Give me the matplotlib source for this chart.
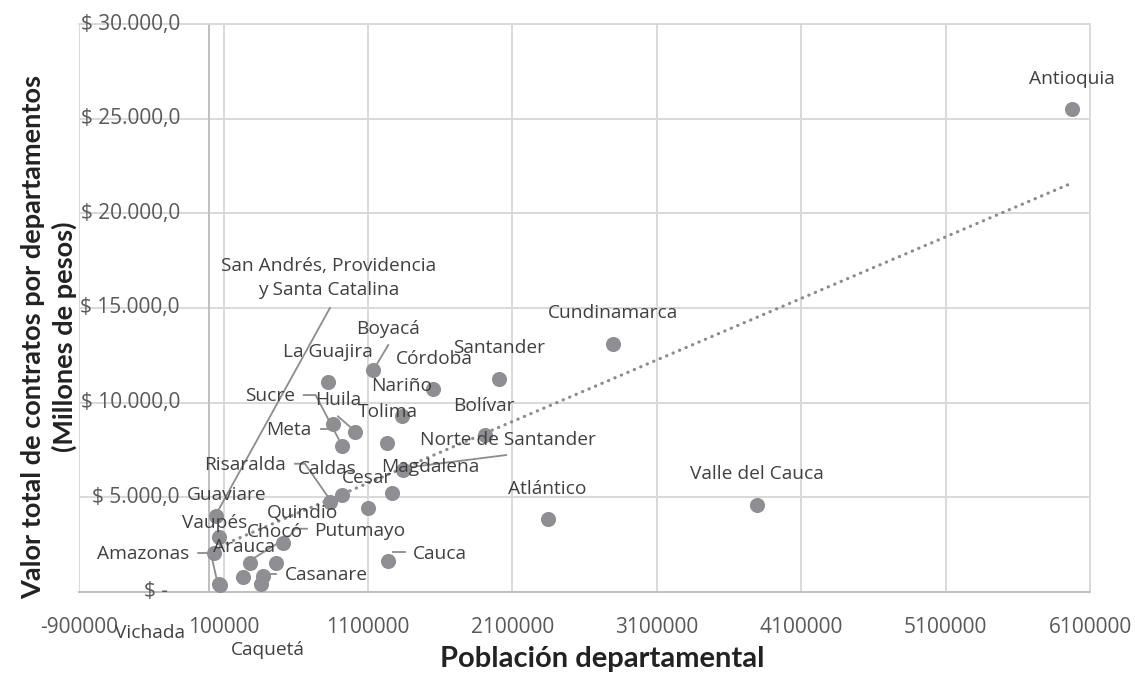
import matplotlib as mpl
import matplotlib.pyplot as plt
import matplotlib.ticker as ticker
import numpy as np

mpl.rcParams['font.family'] = ['Open Sans', 'DejaVu Sans']

# datos por departamento: poblacion y valor total de contratos (millones de pesos)
departamentos = ['Antioquia', 'Cundinamarca', 'Santander', 'Bolívar', 'Valle del Cauca',
                 'Atlántico', 'Córdoba', 'Boyacá', 'La Guajira', 'Nariño', 'Tolima',
                 'Meta', 'Huila', 'Sucre', 'Norte de Santander', 'Magdalena', 'Cesar',
                 'Caldas', 'Risaralda', 'Cauca', 'San Andrés, Providencia\ny Santa Catalina',
                 'Guaviare', 'Vaupés', 'Amazonas', 'Vichada', 'Putumayo', 'Chocó',
                 'Arauca', 'Casanare', 'Caquetá', 'Quindio']
poblacion = [5972000, 2794000, 2008000, 1909000, 3791000,
             2343000, 1551000, 1136000, 824000, 1332000, 1229000,
             859000, 1009000, 917000, 1343000, 1263000, 1101000,
             917000, 836000, 1240000, 46000,
             69000, 33000, 69000, 75000, 282000, 460000,
             235000, 374000, 356000, 508000]
valor = [25497, 13076, 11242, 8282, 4582,
         3842, 10698, 11718, 11084, 9286, 7844,
         8864, 8425, 7701, 6432, 5233, 4408,
         5111, 4757, 1638, 4001,
         2875, 2061, 407, 330, 1533, 1533,
         793, 846, 407, 2590]

y_ticks = [0, 5000, 10000, 15000, 20000, 25000, 30000]
x_ticks = [-900000, 100000, 1100000, 2100000, 3100000, 4100000, 5100000, 6100000]

# posicion de etiquetas (offset en pixeles desde el punto, y hacia abajo) y lineas guia
label_pos = {
    'Antioquia': (0, -30), 'Cundinamarca': (0, -31), 'Santander': (0, -31),
    'Bolívar': (-1, -29), 'Valle del Cauca': (0, -31), 'Atlántico': (0, -30),
    'Córdoba': (1, -30), 'Boyacá': (15, -41), 'La Guajira': (0, -30),
    'Nariño': (0, -30), 'Tolima': (1, -31), 'Meta': (-45, 6), 'Huila': (-17, -32),
    'Sucre': (-72, -50), 'Norte de Santander': (105, -30), 'Magdalena': (39, -26),
    'Cesar': (-1, -30), 'Caldas': (-14, -26), 'Risaralda': (-85, -37),
    'Cauca': (52, -7), 'San Andrés, Providencia\ny Santa Catalina': (113, -238),
    'Guaviare': (7, -42), 'Vaupés': (1, -30), 'Amazonas': (-76, -30),
    'Vichada': (-70, 48), 'Putumayo': (110, -32), 'Chocó': (-1, -31),
    'Arauca': (1, -30), 'Casanare': (63, -1), 'Caquetá': (7, 66), 'Quindio': (20, -30),
}
leaders = {
    'Boyacá': [(15, -25), (3, -5)],
    'Meta': [(-12, 5), (-2, 5)],
    'Huila': [(-17, -16), (-2, -3)],
    'Sucre': [(-38, -51), (-26, -51), (-3, -7)],
    'Norte de Santander': [(103, -15), (0, -2)],
    'Risaralda': [(-35, -38), (-25, -38), (-2, -5)],
    'Cauca': [(17, -9), (5, -9)],
    'San Andrés, Providencia\ny Santa Catalina': [(114, -208), (2, -5)],
    'Amazonas': [(-21, -31), (-9, -31), (-8, -29), (-3, -7)],
    'Vichada': [(-27, 48), (-14, 48), (-1, 6)],
    'Putumayo': [(57, -34), (45, -34), (40, -27), (3, -4)],
    'Casanare': [(13, -2), (7, -2)],
    'Caquetá': [(8, 46), (1, 6)],
}

W, H = 1135, 675
fig = plt.figure(figsize=(W / 100, H / 100), dpi=100)
ax = fig.add_axes([79.3 / W, 1 - 591.7 / H, (1090 - 79.3) / W, (591.7 - 24.3) / H])
ax.set_xlim(-900000, 6100000)
ax.set_ylim(0, 30000)

grid = '#d9d9d9'
ax.set_xticks(x_ticks)
ax.set_yticks(y_ticks)
ax.grid(True, color=grid, linewidth=1.4, zorder=0)
ax.set_axisbelow(True)
for s in ['top', 'right']:
    ax.spines[s].set_color(grid)
    ax.spines[s].set_linewidth(1.4)
ax.spines['left'].set_visible(False)
ax.spines['bottom'].set_color('#bfbfbf')
ax.spines['bottom'].set_linewidth(1.4)
ax.axvline(0, color='#bfbfbf', linewidth=1.4, zorder=1)

ax.tick_params(length=0)
ax.tick_params(axis='x', pad=18, labelsize=15, labelcolor='#595959')
ax.xaxis.set_major_formatter(ticker.FuncFormatter(lambda v, p: '{:d}'.format(int(round(v)))))
ax.set_yticklabels([])


def fmt_peso(v):
    if v == 0:
        return '$ -'
    return '$ ' + '{:,.1f}'.format(v).replace(',', 'X').replace('.', ',').replace('X', '.')


for v in y_ticks:
    xr = 180 if v else 168
    ax.text((xr - 79.3) / (1090 - 79.3), v, fmt_peso(v), transform=ax.get_yaxis_transform(),
            ha='right', va='center', fontsize=15, color='#595959')

# puntos y linea de tendencia
ax.scatter(poblacion, valor, s=118, color='#8e8e93', linewidths=0, zorder=3)
m, b = np.polyfit(poblacion, valor, 1)
xt = np.array([min(poblacion), max(poblacion)])
ax.plot(xt, m * xt + b, color='#8c8c8c', linewidth=2.3, linestyle=(0, (0.1, 2.1)),
        dash_capstyle='round', zorder=2)

for name, x, y in zip(departamentos, poblacion, valor):
    dx, dy = label_pos[name]
    ax.annotate(name, (x, y), xytext=(dx, -dy), textcoords='offset pixels',
                ha='center', va='center', fontsize=13.8, color='#404040',
                linespacing=1.45, zorder=4)
    if name in leaders:
        px, py = ax.transData.transform((x, y))
        pts = [(px + ox, py - oy) for ox, oy in leaders[name]]
        dpts = ax.transData.inverted().transform(pts)
        ax.plot(dpts[:, 0], dpts[:, 1], color='#8c8c8c', linewidth=1.3, zorder=2)

fig.text(602 / W, 1 - 659 / H, 'Población departamental', ha='center', va='center',
         fontsize=21, fontweight='bold', family='Lato', color='#222222')
fig.text(49 / W, 1 - 337 / H, 'Valor total de contratos por departamentos\n(Millones de pesos)',
         ha='center', va='center', rotation=90, fontsize=19.5, fontweight='bold',
         family='Lato', color='#222222', linespacing=1.3)

fig.savefig('out.png', dpi=100)
